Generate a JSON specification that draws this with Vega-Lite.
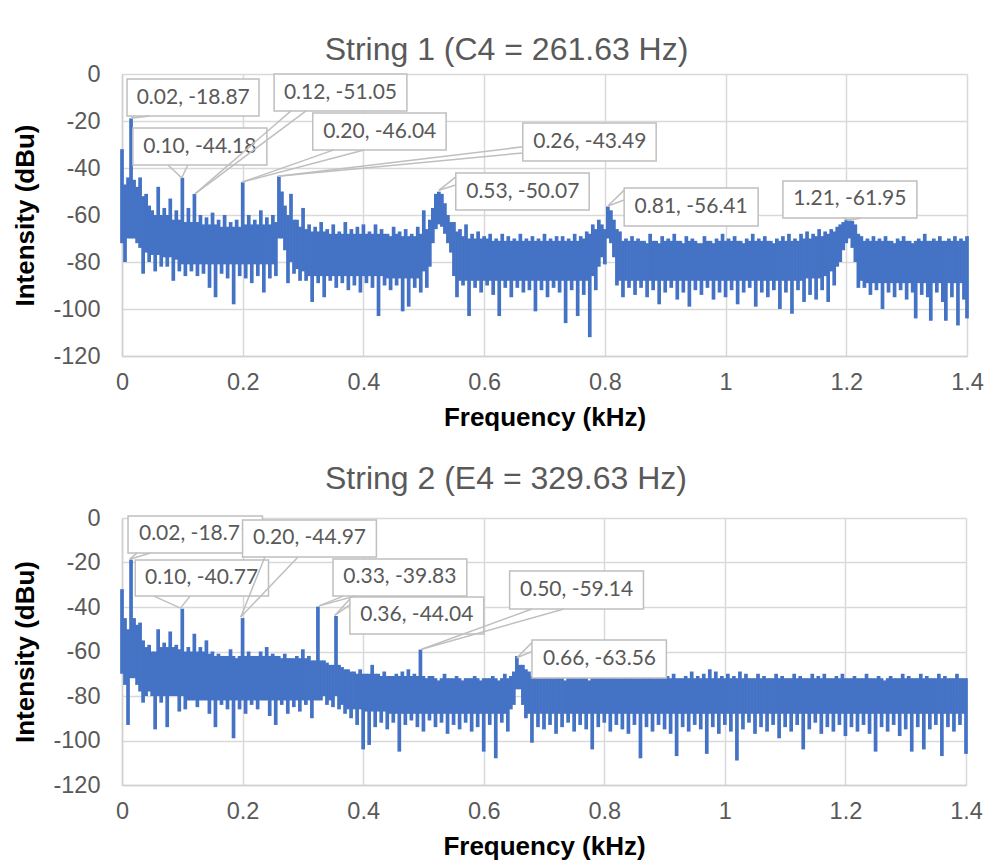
{
  "$schema": "https://vega.github.io/schema/vega-lite/v6.json",
  "background": "white",
  "padding": {"left": 12, "top": 34, "right": 5, "bottom": 5},
  "spacing": 32,
  "datasets": {
    "s1": [
      {"f":0,"h":-32,"l":-72},{"f":0.005,"h":-47,"l":-80},{"f":0.01,"h":-44,"l":-70},{"f":0.015,"h":-18.87,"l":-70},{"f":0.02,"h":-45,"l":-70},{"f":0.025,"h":-48,"l":-72},{"f":0.03,"h":-44,"l":-74},{"f":0.035,"h":-52,"l":-85},{"f":0.04,"h":-51,"l":-76},{"f":0.045,"h":-56,"l":-80},
      {"f":0.05,"h":-58,"l":-77},{"f":0.055,"h":-60,"l":-84},{"f":0.06,"h":-48,"l":-77},{"f":0.065,"h":-60,"l":-82},{"f":0.07,"h":-57,"l":-78},{"f":0.075,"h":-60,"l":-82},{"f":0.08,"h":-53,"l":-78},{"f":0.085,"h":-62,"l":-88},{"f":0.09,"h":-58,"l":-79},{"f":0.095,"h":-62,"l":-84},
      {"f":0.1,"h":-44.18,"l":-81},{"f":0.105,"h":-63,"l":-86},{"f":0.11,"h":-57,"l":-81},{"f":0.115,"h":-63,"l":-84},{"f":0.12,"h":-51.05,"l":-81},{"f":0.125,"h":-63,"l":-86},{"f":0.13,"h":-60,"l":-81},{"f":0.135,"h":-64,"l":-85},{"f":0.14,"h":-61,"l":-81},{"f":0.145,"h":-64,"l":-91},
      {"f":0.15,"h":-59,"l":-81},{"f":0.155,"h":-64,"l":-95},{"f":0.16,"h":-62,"l":-81},{"f":0.165,"h":-65,"l":-85},{"f":0.17,"h":-60,"l":-81},{"f":0.175,"h":-65,"l":-87},{"f":0.18,"h":-63,"l":-81},{"f":0.185,"h":-65,"l":-98},{"f":0.19,"h":-62,"l":-81},{"f":0.195,"h":-65,"l":-86},
      {"f":0.2,"h":-46.04,"l":-81},{"f":0.205,"h":-64,"l":-87},{"f":0.21,"h":-60,"l":-81},{"f":0.215,"h":-64,"l":-89},{"f":0.22,"h":-62,"l":-81},{"f":0.225,"h":-64,"l":-86},{"f":0.23,"h":-58,"l":-81},{"f":0.235,"h":-64,"l":-93},{"f":0.24,"h":-61,"l":-81},{"f":0.245,"h":-64,"l":-87},
      {"f":0.25,"h":-60,"l":-81},{"f":0.255,"h":-63,"l":-86},{"f":0.26,"h":-43.49,"l":-70},{"f":0.265,"h":-50,"l":-70},{"f":0.27,"h":-56,"l":-75},{"f":0.275,"h":-60,"l":-89},{"f":0.28,"h":-51,"l":-80},{"f":0.285,"h":-62,"l":-85},{"f":0.29,"h":-62,"l":-83},{"f":0.295,"h":-65,"l":-88},
      {"f":0.3,"h":-57,"l":-84},{"f":0.305,"h":-66,"l":-88},{"f":0.31,"h":-64,"l":-86},{"f":0.315,"h":-67,"l":-97},{"f":0.32,"h":-65,"l":-86},{"f":0.325,"h":-67,"l":-89},{"f":0.33,"h":-63,"l":-86},{"f":0.335,"h":-67,"l":-95},{"f":0.34,"h":-66,"l":-86},{"f":0.345,"h":-68,"l":-88},
      {"f":0.35,"h":-64,"l":-86},{"f":0.355,"h":-68,"l":-91},{"f":0.36,"h":-67,"l":-86},{"f":0.365,"h":-68,"l":-89},{"f":0.37,"h":-63,"l":-86},{"f":0.375,"h":-68,"l":-92},{"f":0.38,"h":-66,"l":-86},{"f":0.385,"h":-68,"l":-90},{"f":0.39,"h":-65,"l":-86},{"f":0.395,"h":-68,"l":-93},
      {"f":0.4,"h":-64,"l":-86},{"f":0.405,"h":-68,"l":-89},{"f":0.41,"h":-67,"l":-86},{"f":0.415,"h":-68,"l":-91},{"f":0.42,"h":-64,"l":-86},{"f":0.425,"h":-68,"l":-103},{"f":0.43,"h":-66,"l":-86},{"f":0.435,"h":-68,"l":-90},{"f":0.44,"h":-68,"l":-87},{"f":0.445,"h":-69,"l":-92},
      {"f":0.45,"h":-65,"l":-87},{"f":0.455,"h":-68,"l":-90},{"f":0.46,"h":-67,"l":-87},{"f":0.465,"h":-69,"l":-101},{"f":0.47,"h":-66,"l":-87},{"f":0.475,"h":-69,"l":-99},{"f":0.48,"h":-68,"l":-87},{"f":0.485,"h":-69,"l":-91},{"f":0.49,"h":-65,"l":-87},{"f":0.495,"h":-68,"l":-93},
      {"f":0.5,"h":-58,"l":-84},{"f":0.505,"h":-66,"l":-91},{"f":0.51,"h":-62,"l":-82},{"f":0.515,"h":-57,"l":-72},{"f":0.52,"h":-51,"l":-66},{"f":0.525,"h":-50.07,"l":-64},{"f":0.53,"h":-51,"l":-65},{"f":0.535,"h":-55,"l":-68},{"f":0.54,"h":-60,"l":-72},{"f":0.545,"h":-63,"l":-76},
      {"f":0.55,"h":-63,"l":-86},{"f":0.555,"h":-67,"l":-95},{"f":0.56,"h":-66,"l":-88},{"f":0.565,"h":-69,"l":-90},{"f":0.57,"h":-64,"l":-88},{"f":0.575,"h":-70,"l":-103},{"f":0.58,"h":-68,"l":-88},{"f":0.585,"h":-70,"l":-91},{"f":0.59,"h":-67,"l":-88},{"f":0.595,"h":-70,"l":-93},
      {"f":0.6,"h":-69,"l":-88},{"f":0.605,"h":-70,"l":-90},{"f":0.61,"h":-68,"l":-88},{"f":0.615,"h":-71,"l":-94},{"f":0.62,"h":-70,"l":-88},{"f":0.625,"h":-71,"l":-103},{"f":0.63,"h":-68,"l":-88},{"f":0.635,"h":-71,"l":-91},{"f":0.64,"h":-69,"l":-88},{"f":0.645,"h":-71,"l":-95},
      {"f":0.65,"h":-70,"l":-88},{"f":0.655,"h":-71,"l":-91},{"f":0.66,"h":-68,"l":-88},{"f":0.665,"h":-71,"l":-93},{"f":0.67,"h":-70,"l":-88},{"f":0.675,"h":-71,"l":-92},{"f":0.68,"h":-69,"l":-88},{"f":0.685,"h":-71,"l":-101},{"f":0.69,"h":-70,"l":-88},{"f":0.695,"h":-71,"l":-92},
      {"f":0.7,"h":-68,"l":-88},{"f":0.705,"h":-71,"l":-95},{"f":0.71,"h":-70,"l":-88},{"f":0.715,"h":-71,"l":-91},{"f":0.72,"h":-69,"l":-88},{"f":0.725,"h":-71,"l":-93},{"f":0.73,"h":-69,"l":-88},{"f":0.735,"h":-71,"l":-106},{"f":0.74,"h":-70,"l":-88},{"f":0.745,"h":-71,"l":-92},
      {"f":0.75,"h":-68,"l":-88},{"f":0.755,"h":-71,"l":-103},{"f":0.76,"h":-69,"l":-88},{"f":0.765,"h":-70,"l":-94},{"f":0.77,"h":-67,"l":-88},{"f":0.775,"h":-68,"l":-112},{"f":0.78,"h":-64,"l":-86},{"f":0.785,"h":-66,"l":-92},{"f":0.79,"h":-62,"l":-82},{"f":0.795,"h":-64,"l":-78},
      {"f":0.8,"h":-66,"l":-81},{"f":0.805,"h":-56.41,"l":-70},{"f":0.81,"h":-58,"l":-72},{"f":0.815,"h":-62,"l":-78},{"f":0.82,"h":-66,"l":-90},{"f":0.825,"h":-67,"l":-88},{"f":0.83,"h":-71,"l":-95},{"f":0.835,"h":-70,"l":-88},{"f":0.84,"h":-71,"l":-91},{"f":0.845,"h":-69,"l":-88},
      {"f":0.85,"h":-71,"l":-94},{"f":0.855,"h":-70,"l":-88},{"f":0.86,"h":-71,"l":-91},{"f":0.865,"h":-71,"l":-88},{"f":0.87,"h":-72,"l":-95},{"f":0.875,"h":-68,"l":-88},{"f":0.88,"h":-71,"l":-92},{"f":0.885,"h":-71,"l":-88},{"f":0.89,"h":-72,"l":-98},{"f":0.895,"h":-69,"l":-88},
      {"f":0.9,"h":-71,"l":-93},{"f":0.905,"h":-70,"l":-88},{"f":0.91,"h":-71,"l":-91},{"f":0.915,"h":-68,"l":-88},{"f":0.92,"h":-71,"l":-96},{"f":0.925,"h":-71,"l":-88},{"f":0.93,"h":-72,"l":-93},{"f":0.935,"h":-69,"l":-88},{"f":0.94,"h":-71,"l":-99},{"f":0.945,"h":-70,"l":-88},
      {"f":0.95,"h":-71,"l":-92},{"f":0.955,"h":-72,"l":-88},{"f":0.96,"h":-72,"l":-94},{"f":0.965,"h":-69,"l":-88},{"f":0.97,"h":-71,"l":-91},{"f":0.975,"h":-71,"l":-88},{"f":0.98,"h":-72,"l":-96},{"f":0.985,"h":-70,"l":-88},{"f":0.99,"h":-71,"l":-93},{"f":0.995,"h":-68,"l":-88},
      {"f":1.0,"h":-71,"l":-95},{"f":1.005,"h":-70,"l":-88},{"f":1.01,"h":-71,"l":-92},{"f":1.015,"h":-69,"l":-88},{"f":1.02,"h":-71,"l":-98},{"f":1.025,"h":-71,"l":-88},{"f":1.03,"h":-72,"l":-93},{"f":1.035,"h":-70,"l":-88},{"f":1.04,"h":-71,"l":-91},{"f":1.045,"h":-68,"l":-88},
      {"f":1.05,"h":-71,"l":-99},{"f":1.055,"h":-70,"l":-88},{"f":1.06,"h":-71,"l":-93},{"f":1.065,"h":-69,"l":-88},{"f":1.07,"h":-71,"l":-95},{"f":1.075,"h":-71,"l":-88},{"f":1.08,"h":-72,"l":-92},{"f":1.085,"h":-70,"l":-88},{"f":1.09,"h":-71,"l":-100},{"f":1.095,"h":-69,"l":-88},
      {"f":1.1,"h":-71,"l":-93},{"f":1.105,"h":-68,"l":-88},{"f":1.11,"h":-71,"l":-102},{"f":1.115,"h":-70,"l":-88},{"f":1.12,"h":-71,"l":-92},{"f":1.125,"h":-68,"l":-88},{"f":1.13,"h":-70,"l":-97},{"f":1.135,"h":-67,"l":-87},{"f":1.14,"h":-70,"l":-94},{"f":1.145,"h":-68,"l":-87},
      {"f":1.15,"h":-69,"l":-96},{"f":1.155,"h":-66,"l":-87},{"f":1.16,"h":-69,"l":-92},{"f":1.165,"h":-67,"l":-86},{"f":1.17,"h":-68,"l":-97},{"f":1.175,"h":-66,"l":-84},{"f":1.18,"h":-67,"l":-90},{"f":1.185,"h":-65,"l":-82},{"f":1.19,"h":-64,"l":-80},{"f":1.195,"h":-63,"l":-75},
      {"f":1.2,"h":-62,"l":-72},{"f":1.205,"h":-61.95,"l":-70},{"f":1.21,"h":-62.5,"l":-74},{"f":1.215,"h":-64,"l":-80},{"f":1.22,"h":-68,"l":-91},{"f":1.225,"h":-69,"l":-88},{"f":1.23,"h":-71,"l":-91},{"f":1.235,"h":-70,"l":-89},{"f":1.24,"h":-71,"l":-94},{"f":1.245,"h":-69,"l":-89},
      {"f":1.25,"h":-71,"l":-92},{"f":1.255,"h":-70,"l":-89},{"f":1.26,"h":-71,"l":-100},{"f":1.265,"h":-69,"l":-89},{"f":1.27,"h":-71,"l":-93},{"f":1.275,"h":-71,"l":-89},{"f":1.28,"h":-72,"l":-95},{"f":1.285,"h":-70,"l":-89},{"f":1.29,"h":-71,"l":-92},{"f":1.295,"h":-69,"l":-89},
      {"f":1.3,"h":-71,"l":-96},{"f":1.305,"h":-71,"l":-89},{"f":1.31,"h":-72,"l":-93},{"f":1.315,"h":-71,"l":-104},{"f":1.32,"h":-70,"l":-89},{"f":1.325,"h":-71,"l":-94},{"f":1.33,"h":-68,"l":-89},{"f":1.335,"h":-71,"l":-95},{"f":1.34,"h":-71,"l":-105},{"f":1.345,"h":-70,"l":-89},
      {"f":1.35,"h":-71,"l":-93},{"f":1.355,"h":-69,"l":-89},{"f":1.36,"h":-71,"l":-97},{"f":1.365,"h":-71,"l":-105},{"f":1.37,"h":-70,"l":-89},{"f":1.375,"h":-71,"l":-95},{"f":1.38,"h":-69,"l":-89},{"f":1.385,"h":-71,"l":-107},{"f":1.39,"h":-70,"l":-89},{"f":1.395,"h":-71,"l":-96},
      {"f":1.4,"h":-69,"l":-104}
    ],
    "s2": [
      {"f":0,"h":-32,"l":-70},{"f":0.005,"h":-45,"l":-75},{"f":0.01,"h":-50,"l":-93},{"f":0.015,"h":-18.7,"l":-72},{"f":0.02,"h":-45,"l":-72},{"f":0.025,"h":-48,"l":-75},{"f":0.03,"h":-47,"l":-78},{"f":0.035,"h":-55,"l":-83},{"f":0.04,"h":-58,"l":-80},{"f":0.045,"h":-57,"l":-78},
      {"f":0.05,"h":-60,"l":-80},{"f":0.055,"h":-60,"l":-95},{"f":0.06,"h":-50,"l":-80},{"f":0.065,"h":-58,"l":-83},{"f":0.07,"h":-56,"l":-80},{"f":0.075,"h":-58,"l":-94},{"f":0.08,"h":-51,"l":-80},{"f":0.085,"h":-58,"l":-80},{"f":0.09,"h":-57,"l":-80},{"f":0.095,"h":-59,"l":-87},
      {"f":0.1,"h":-40.77,"l":-80},{"f":0.105,"h":-60,"l":-86},{"f":0.11,"h":-58,"l":-82},{"f":0.115,"h":-60,"l":-82},{"f":0.12,"h":-52,"l":-82},{"f":0.125,"h":-60,"l":-85},{"f":0.13,"h":-58,"l":-82},{"f":0.135,"h":-60,"l":-82},{"f":0.14,"h":-55,"l":-82},{"f":0.145,"h":-61,"l":-88},
      {"f":0.15,"h":-60,"l":-82},{"f":0.155,"h":-62,"l":-94},{"f":0.16,"h":-61,"l":-82},{"f":0.165,"h":-62,"l":-84},{"f":0.17,"h":-62,"l":-82},{"f":0.175,"h":-62,"l":-86},{"f":0.18,"h":-59,"l":-82},{"f":0.185,"h":-62,"l":-99},{"f":0.19,"h":-63,"l":-82},{"f":0.195,"h":-62,"l":-86},
      {"f":0.2,"h":-44.97,"l":-82},{"f":0.205,"h":-62,"l":-88},{"f":0.21,"h":-60,"l":-82},{"f":0.215,"h":-62,"l":-84},{"f":0.22,"h":-62,"l":-82},{"f":0.225,"h":-62,"l":-86},{"f":0.23,"h":-60,"l":-82},{"f":0.235,"h":-62,"l":-82},{"f":0.24,"h":-58,"l":-82},{"f":0.245,"h":-62,"l":-89},
      {"f":0.25,"h":-61,"l":-82},{"f":0.255,"h":-62,"l":-93},{"f":0.26,"h":-62,"l":-82},{"f":0.265,"h":-63,"l":-84},{"f":0.27,"h":-61,"l":-82},{"f":0.275,"h":-63,"l":-88},{"f":0.28,"h":-63,"l":-82},{"f":0.285,"h":-63,"l":-85},{"f":0.29,"h":-62,"l":-82},{"f":0.295,"h":-63,"l":-87},
      {"f":0.3,"h":-59,"l":-82},{"f":0.305,"h":-63,"l":-84},{"f":0.31,"h":-62,"l":-82},{"f":0.315,"h":-64,"l":-90},{"f":0.32,"h":-64,"l":-82},{"f":0.325,"h":-39.83,"l":-82},{"f":0.33,"h":-64,"l":-82},{"f":0.335,"h":-64,"l":-80},{"f":0.34,"h":-65,"l":-84},{"f":0.345,"h":-66,"l":-82},
      {"f":0.35,"h":-66,"l":-85},{"f":0.355,"h":-44.04,"l":-80},{"f":0.36,"h":-66,"l":-86},{"f":0.365,"h":-67,"l":-84},{"f":0.37,"h":-68,"l":-88},{"f":0.375,"h":-68,"l":-86},{"f":0.38,"h":-69,"l":-90},{"f":0.385,"h":-69,"l":-86},{"f":0.39,"h":-70,"l":-93},{"f":0.395,"h":-68,"l":-86},
      {"f":0.4,"h":-70,"l":-104},{"f":0.405,"h":-70,"l":-87},{"f":0.41,"h":-70,"l":-102},{"f":0.415,"h":-66,"l":-87},{"f":0.42,"h":-70,"l":-94},{"f":0.425,"h":-70,"l":-87},{"f":0.43,"h":-71,"l":-92},{"f":0.435,"h":-69,"l":-87},{"f":0.44,"h":-71,"l":-95},{"f":0.445,"h":-71,"l":-88},
      {"f":0.45,"h":-71,"l":-92},{"f":0.455,"h":-70,"l":-88},{"f":0.46,"h":-71,"l":-105},{"f":0.465,"h":-69,"l":-88},{"f":0.47,"h":-71,"l":-93},{"f":0.475,"h":-68,"l":-88},{"f":0.48,"h":-71,"l":-91},{"f":0.485,"h":-70,"l":-88},{"f":0.49,"h":-71,"l":-94},{"f":0.495,"h":-59.14,"l":-88},
      {"f":0.5,"h":-71,"l":-96},{"f":0.505,"h":-72,"l":-88},{"f":0.51,"h":-71,"l":-91},{"f":0.515,"h":-71,"l":-88},{"f":0.52,"h":-72,"l":-94},{"f":0.525,"h":-73,"l":-88},{"f":0.53,"h":-72,"l":-92},{"f":0.535,"h":-70,"l":-88},{"f":0.54,"h":-72,"l":-97},{"f":0.545,"h":-72,"l":-88},
      {"f":0.55,"h":-72,"l":-93},{"f":0.555,"h":-71,"l":-88},{"f":0.56,"h":-72,"l":-95},{"f":0.565,"h":-73,"l":-88},{"f":0.57,"h":-72,"l":-92},{"f":0.575,"h":-72,"l":-88},{"f":0.58,"h":-72,"l":-96},{"f":0.585,"h":-71,"l":-88},{"f":0.59,"h":-72,"l":-94},{"f":0.595,"h":-73,"l":-88},
      {"f":0.6,"h":-72,"l":-105},{"f":0.605,"h":-72,"l":-88},{"f":0.61,"h":-72,"l":-93},{"f":0.615,"h":-71,"l":-88},{"f":0.62,"h":-72,"l":-108},{"f":0.625,"h":-73,"l":-88},{"f":0.63,"h":-72,"l":-92},{"f":0.635,"h":-70,"l":-88},{"f":0.64,"h":-72,"l":-96},{"f":0.645,"h":-71,"l":-86},
      {"f":0.65,"h":-69,"l":-84},{"f":0.655,"h":-62,"l":-77},{"f":0.66,"h":-66,"l":-77},{"f":0.665,"h":-66,"l":-84},{"f":0.67,"h":-68,"l":-90},{"f":0.675,"h":-69,"l":-88},{"f":0.68,"h":-71,"l":-101},{"f":0.685,"h":-71,"l":-88},{"f":0.69,"h":-72,"l":-94},{"f":0.695,"h":-72,"l":-88},
      {"f":0.7,"h":-72,"l":-95},{"f":0.705,"h":-70,"l":-88},{"f":0.71,"h":-72,"l":-93},{"f":0.715,"h":-72,"l":-88},{"f":0.72,"h":-72,"l":-97},{"f":0.725,"h":-71,"l":-88},{"f":0.73,"h":-72,"l":-94},{"f":0.735,"h":-73,"l":-88},{"f":0.74,"h":-72,"l":-92},{"f":0.745,"h":-70,"l":-88},
      {"f":0.75,"h":-72,"l":-96},{"f":0.755,"h":-72,"l":-88},{"f":0.76,"h":-72,"l":-93},{"f":0.765,"h":-71,"l":-88},{"f":0.77,"h":-72,"l":-95},{"f":0.775,"h":-73,"l":-88},{"f":0.78,"h":-72,"l":-104},{"f":0.785,"h":-71,"l":-88},{"f":0.79,"h":-72,"l":-94},{"f":0.795,"h":-70,"l":-88},
      {"f":0.8,"h":-72,"l":-92},{"f":0.805,"h":-72,"l":-88},{"f":0.81,"h":-72,"l":-96},{"f":0.815,"h":-70,"l":-88},{"f":0.82,"h":-72,"l":-93},{"f":0.825,"h":-72,"l":-88},{"f":0.83,"h":-72,"l":-95},{"f":0.835,"h":-71,"l":-88},{"f":0.84,"h":-72,"l":-97},{"f":0.845,"h":-70,"l":-88},
      {"f":0.85,"h":-72,"l":-93},{"f":0.855,"h":-72,"l":-88},{"f":0.86,"h":-72,"l":-108},{"f":0.865,"h":-71,"l":-88},{"f":0.87,"h":-72,"l":-94},{"f":0.875,"h":-70,"l":-88},{"f":0.88,"h":-72,"l":-96},{"f":0.885,"h":-72,"l":-88},{"f":0.89,"h":-72,"l":-93},{"f":0.895,"h":-69,"l":-88},
      {"f":0.9,"h":-72,"l":-95},{"f":0.905,"h":-71,"l":-88},{"f":0.91,"h":-72,"l":-97},{"f":0.915,"h":-70,"l":-88},{"f":0.92,"h":-72,"l":-107},{"f":0.925,"h":-72,"l":-88},{"f":0.93,"h":-72,"l":-94},{"f":0.935,"h":-71,"l":-88},{"f":0.94,"h":-72,"l":-96},{"f":0.945,"h":-69,"l":-88},
      {"f":0.95,"h":-72,"l":-93},{"f":0.955,"h":-71,"l":-88},{"f":0.96,"h":-72,"l":-95},{"f":0.965,"h":-70,"l":-88},{"f":0.97,"h":-72,"l":-106},{"f":0.975,"h":-68,"l":-88},{"f":0.98,"h":-72,"l":-94},{"f":0.985,"h":-69,"l":-88},{"f":0.99,"h":-72,"l":-97},{"f":0.995,"h":-71,"l":-88},
      {"f":1.0,"h":-72,"l":-93},{"f":1.005,"h":-70,"l":-88},{"f":1.01,"h":-72,"l":-96},{"f":1.015,"h":-71,"l":-88},{"f":1.02,"h":-72,"l":-109},{"f":1.025,"h":-69,"l":-88},{"f":1.03,"h":-72,"l":-95},{"f":1.035,"h":-70,"l":-88},{"f":1.04,"h":-72,"l":-92},{"f":1.045,"h":-72,"l":-88},
      {"f":1.05,"h":-72,"l":-97},{"f":1.055,"h":-70,"l":-88},{"f":1.06,"h":-72,"l":-94},{"f":1.065,"h":-71,"l":-88},{"f":1.07,"h":-72,"l":-96},{"f":1.075,"h":-72,"l":-88},{"f":1.08,"h":-72,"l":-93},{"f":1.085,"h":-70,"l":-88},{"f":1.09,"h":-72,"l":-99},{"f":1.095,"h":-71,"l":-88},
      {"f":1.1,"h":-72,"l":-94},{"f":1.105,"h":-72,"l":-88},{"f":1.11,"h":-72,"l":-96},{"f":1.115,"h":-70,"l":-88},{"f":1.12,"h":-72,"l":-93},{"f":1.125,"h":-71,"l":-88},{"f":1.13,"h":-72,"l":-104},{"f":1.135,"h":-72,"l":-88},{"f":1.14,"h":-72,"l":-95},{"f":1.145,"h":-70,"l":-88},
      {"f":1.15,"h":-72,"l":-92},{"f":1.155,"h":-71,"l":-88},{"f":1.16,"h":-72,"l":-97},{"f":1.165,"h":-70,"l":-88},{"f":1.17,"h":-72,"l":-94},{"f":1.175,"h":-72,"l":-88},{"f":1.18,"h":-72,"l":-96},{"f":1.185,"h":-71,"l":-88},{"f":1.19,"h":-72,"l":-93},{"f":1.195,"h":-70,"l":-88},
      {"f":1.2,"h":-72,"l":-98},{"f":1.205,"h":-72,"l":-88},{"f":1.21,"h":-72,"l":-94},{"f":1.215,"h":-71,"l":-88},{"f":1.22,"h":-72,"l":-96},{"f":1.225,"h":-72,"l":-88},{"f":1.23,"h":-72,"l":-93},{"f":1.235,"h":-70,"l":-88},{"f":1.24,"h":-72,"l":-97},{"f":1.245,"h":-72,"l":-88},
      {"f":1.25,"h":-72,"l":-105},{"f":1.255,"h":-71,"l":-88},{"f":1.26,"h":-72,"l":-94},{"f":1.265,"h":-73,"l":-88},{"f":1.27,"h":-72,"l":-96},{"f":1.275,"h":-71,"l":-88},{"f":1.28,"h":-72,"l":-93},{"f":1.285,"h":-72,"l":-88},{"f":1.29,"h":-72,"l":-98},{"f":1.295,"h":-70,"l":-88},
      {"f":1.3,"h":-72,"l":-95},{"f":1.305,"h":-71,"l":-88},{"f":1.31,"h":-72,"l":-105},{"f":1.315,"h":-72,"l":-88},{"f":1.32,"h":-72,"l":-94},{"f":1.325,"h":-70,"l":-88},{"f":1.33,"h":-72,"l":-104},{"f":1.335,"h":-71,"l":-88},{"f":1.34,"h":-72,"l":-95},{"f":1.345,"h":-72,"l":-88},
      {"f":1.35,"h":-72,"l":-93},{"f":1.355,"h":-70,"l":-88},{"f":1.36,"h":-72,"l":-107},{"f":1.365,"h":-71,"l":-88},{"f":1.37,"h":-72,"l":-94},{"f":1.375,"h":-72,"l":-88},{"f":1.38,"h":-72,"l":-96},{"f":1.385,"h":-70,"l":-88},{"f":1.39,"h":-72,"l":-93},{"f":1.395,"h":-72,"l":-88},
      {"f":1.4,"h":-72,"l":-106}
    ],
    "c1": [
      {"t":"0.02, -18.87","f":0.0083,"f2":0.227,"d":-2.1,"d2":-17.9,"tf":0.118,"td":-10,"z":0},
      {"t":"0.10, -44.18","f":0.018,"f2":0.24,"d":-23.0,"d2":-38.7,"tf":0.129,"td":-30.9,"z":0},
      {"t":"0.12, -51.05","f":0.252,"f2":0.472,"d":0,"d2":-15.7,"tf":0.362,"td":-7.9,"z":0},
      {"t":"0.20, -46.04","f":0.316,"f2":0.537,"d":-16.6,"d2":-32.3,"tf":0.427,"td":-24.5,"z":0},
      {"t":"0.26, -43.49","f":0.664,"f2":0.885,"d":-20.9,"d2":-37.0,"tf":0.775,"td":-29,"z":0},
      {"t":"0.53, -50.07","f":0.553,"f2":0.774,"d":-42.1,"d2":-57.9,"tf":0.664,"td":-50,"z":0},
      {"t":"0.81, -56.41","f":0.832,"f2":1.054,"d":-48.5,"d2":-64.7,"tf":0.943,"td":-56.6,"z":0},
      {"t":"1.21, -61.95","f":1.095,"f2":1.317,"d":-45.5,"d2":-61.3,"tf":1.206,"td":-53.4,"z":0}
    ],
    "w1": [
      {"f":0.02,"d":-17.9,"f2":0.015,"d2":-18.87},{"f":0.045,"d":-17.9,"f2":0.015,"d2":-18.87},
      {"f":0.076,"d":-38.7,"f2":0.099,"d2":-44.2},{"f":0.109,"d":-38.7,"f2":0.099,"d2":-44.2},
      {"f":0.28,"d":-15.7,"f2":0.121,"d2":-51},{"f":0.305,"d":-15.7,"f2":0.121,"d2":-51},
      {"f":0.351,"d":-32.3,"f2":0.199,"d2":-46},{"f":0.401,"d":-32.3,"f2":0.199,"d2":-46},
      {"f":0.664,"d":-31,"f2":0.258,"d2":-43.5},{"f":0.664,"d":-33.6,"f2":0.258,"d2":-43.5},
      {"f":0.553,"d":-43.8,"f2":0.525,"d2":-49.5},{"f":0.553,"d":-47.2,"f2":0.525,"d2":-49.5},
      {"f":0.832,"d":-49.4,"f2":0.805,"d2":-56.2},{"f":0.832,"d":-53.6,"f2":0.805,"d2":-56.2},
      {"f":1.196,"d":-61.3,"f2":1.203,"d2":-62.3},{"f":1.224,"d":-61.3,"f2":1.203,"d2":-62.3}
    ],
    "c2": [
      {"t":"0.02, -18.71","f":0.01,"f2":0.233,"d":0.9,"d2":-15.7,"tf":0.122,"td":-7.4,"z":0},
      {"t":"0.10, -40.77","f":0.022,"f2":0.243,"d":-18.9,"d2":-35.1,"tf":0.132,"td":-27,"z":0},
      {"t":"0.20, -44.97","f":0.2,"f2":0.422,"d":-0.9,"d2":-17.5,"tf":0.311,"td":-9.2,"z":1},
      {"t":"0.33, -39.83","f":0.35,"f2":0.572,"d":-18.4,"d2":-35.1,"tf":0.461,"td":-26.7,"z":0},
      {"t":"0.36, -44.04","f":0.378,"f2":0.6,"d":-35.5,"d2":-52.1,"tf":0.489,"td":-43.8,"z":1},
      {"t":"0.50, -59.14","f":0.643,"f2":0.865,"d":-23.8,"d2":-40.9,"tf":0.754,"td":-32.4,"z":0},
      {"t":"0.66, -63.56","f":0.68,"f2":0.903,"d":-54.8,"d2":-71.9,"tf":0.792,"td":-63.4,"z":0}
    ],
    "w2": [
      {"f":0.025,"d":-15.7,"f2":0.013,"d2":-18.5},{"f":0.047,"d":-15.7,"f2":0.013,"d2":-18.5},
      {"f":0.053,"d":-35.1,"f2":0.097,"d2":-40.5},{"f":0.113,"d":-35.1,"f2":0.097,"d2":-40.5},
      {"f":0.237,"d":-17.5,"f2":0.197,"d2":-44.5},{"f":0.292,"d":-17.5,"f2":0.197,"d2":-44.5},
      {"f":0.367,"d":-35.1,"f2":0.327,"d2":-39.5},{"f":0.387,"d":-35.1,"f2":0.327,"d2":-39.5},
      {"f":0.378,"d":-36.4,"f2":0.353,"d2":-43.8},{"f":0.378,"d":-39,"f2":0.353,"d2":-43.8},
      {"f":0.68,"d":-40.9,"f2":0.497,"d2":-59},{"f":0.733,"d":-40.9,"f2":0.497,"d2":-59},
      {"f":0.68,"d":-56,"f2":0.655,"d2":-62.8},{"f":0.68,"d":-60,"f2":0.655,"d2":-62.8}
    ]
  },
  "vconcat": [
    {
      "width": 845,
      "height": 282,
      "title": {"text": "String 1 (C4 = 261.63 Hz)", "dx": -38, "offset": -5},
      "layer": [
        {
          "data": {"name": "s1"},
          "mark": {"type": "rule", "color": "#4472C4", "strokeWidth": 3.7},
          "encoding": {
            "x": {"field": "f", "type": "quantitative", "scale": {"domain": [0, 1.4], "nice": false},
                  "axis": {"title": "Frequency (kHz)", "values": [0, 0.2, 0.4, 0.6, 0.8, 1, 1.2, 1.4], "labelExpr": "'' + datum.value"}},
            "y": {"field": "h", "type": "quantitative", "scale": {"domain": [-120, 0], "nice": false},
                  "axis": {"title": "Intensity (dBu)", "values": [-120, -100, -80, -60, -40, -20, 0], "labelExpr": "'' + datum.value"}},
            "y2": {"field": "l"}
          }
        },
        {
          "data": {"name": "c1"},
          "transform": [{"filter": "datum.z == 0"}],
          "mark": {"type": "rect", "fill": "white", "stroke": "#bfbfbf", "strokeWidth": 1.5},
          "encoding": {
            "x": {"field": "f", "type": "quantitative"}, "x2": {"field": "f2"},
            "y": {"field": "d", "type": "quantitative"}, "y2": {"field": "d2"}
          }
        },
        {
          "data": {"name": "c1"},
          "transform": [{"filter": "datum.z == 0"}],
          "mark": {"type": "text", "font": "Lato", "fontSize": 21, "color": "#595959", "align": "center", "baseline": "middle"},
          "encoding": {
            "x": {"field": "tf", "type": "quantitative"},
            "y": {"field": "td", "type": "quantitative"},
            "text": {"field": "t"}
          }
        },
        {
          "data": {"name": "w1"},
          "mark": {"type": "rule", "color": "#bfbfbf", "strokeWidth": 1.5},
          "encoding": {
            "x": {"field": "f", "type": "quantitative"}, "x2": {"field": "f2"},
            "y": {"field": "d", "type": "quantitative"}, "y2": {"field": "d2"}
          }
        }
      ]
    },
    {
      "width": 844,
      "height": 267,
      "title": {"text": "String 2 (E4 = 329.63 Hz)", "dx": -38, "offset": 10},
      "layer": [
        {
          "data": {"name": "s2"},
          "mark": {"type": "rule", "color": "#4472C4", "strokeWidth": 3.7},
          "encoding": {
            "x": {"field": "f", "type": "quantitative", "scale": {"domain": [0, 1.4], "nice": false},
                  "axis": {"title": "Frequency (kHz)", "values": [0, 0.2, 0.4, 0.6, 0.8, 1, 1.2, 1.4], "labelExpr": "'' + datum.value"}},
            "y": {"field": "h", "type": "quantitative", "scale": {"domain": [-120, 0], "nice": false},
                  "axis": {"title": "Intensity (dBu)", "values": [-120, -100, -80, -60, -40, -20, 0], "labelExpr": "'' + datum.value"}},
            "y2": {"field": "l"}
          }
        },
        {
          "data": {"name": "c2"},
          "transform": [{"filter": "datum.z == 0"}],
          "mark": {"type": "rect", "fill": "white", "stroke": "#bfbfbf", "strokeWidth": 1.5},
          "encoding": {
            "x": {"field": "f", "type": "quantitative"}, "x2": {"field": "f2"},
            "y": {"field": "d", "type": "quantitative"}, "y2": {"field": "d2"}
          }
        },
        {
          "data": {"name": "c2"},
          "transform": [{"filter": "datum.z == 0"}],
          "mark": {"type": "text", "font": "Lato", "fontSize": 21, "color": "#595959", "align": "center", "baseline": "middle"},
          "encoding": {
            "x": {"field": "tf", "type": "quantitative"},
            "y": {"field": "td", "type": "quantitative"},
            "text": {"field": "t"}
          }
        },
        {
          "data": {"name": "c2"},
          "transform": [{"filter": "datum.z == 1"}],
          "mark": {"type": "rect", "fill": "white", "stroke": "#bfbfbf", "strokeWidth": 1.5},
          "encoding": {
            "x": {"field": "f", "type": "quantitative"}, "x2": {"field": "f2"},
            "y": {"field": "d", "type": "quantitative"}, "y2": {"field": "d2"}
          }
        },
        {
          "data": {"name": "c2"},
          "transform": [{"filter": "datum.z == 1"}],
          "mark": {"type": "text", "font": "Lato", "fontSize": 21, "color": "#595959", "align": "center", "baseline": "middle"},
          "encoding": {
            "x": {"field": "tf", "type": "quantitative"},
            "y": {"field": "td", "type": "quantitative"},
            "text": {"field": "t"}
          }
        },
        {
          "data": {"name": "w2"},
          "mark": {"type": "rule", "color": "#bfbfbf", "strokeWidth": 1.5},
          "encoding": {
            "x": {"field": "f", "type": "quantitative"}, "x2": {"field": "f2"},
            "y": {"field": "d", "type": "quantitative"}, "y2": {"field": "d2"}
          }
        }
      ]
    }
  ],
  "config": {
    "view": {"stroke": null},
    "font": "Liberation Sans",
    "axis": {
      "grid": true, "gridColor": "#d9d9d9", "gridWidth": 1.5,
      "domainColor": "#d0d0d0", "domainWidth": 1.5,
      "ticks": false, "tickSize": 0,
      "labelFont": "Liberation Sans", "labelFontSize": 23.5, "labelColor": "#595959",
      "titleFont": "Liberation Sans", "titleFontSize": 26, "titleFontWeight": "bold", "titleColor": "#000000"
    },
    "axisY": {"labelPadding": 22, "titlePadding": 14},
    "axisX": {"labelPadding": 14, "titlePadding": 11, "labelFlush": false},
    "title": {"fontSize": 32, "font": "Liberation Sans", "fontWeight": "normal", "color": "#595959", "anchor": "middle"}
  }
}
